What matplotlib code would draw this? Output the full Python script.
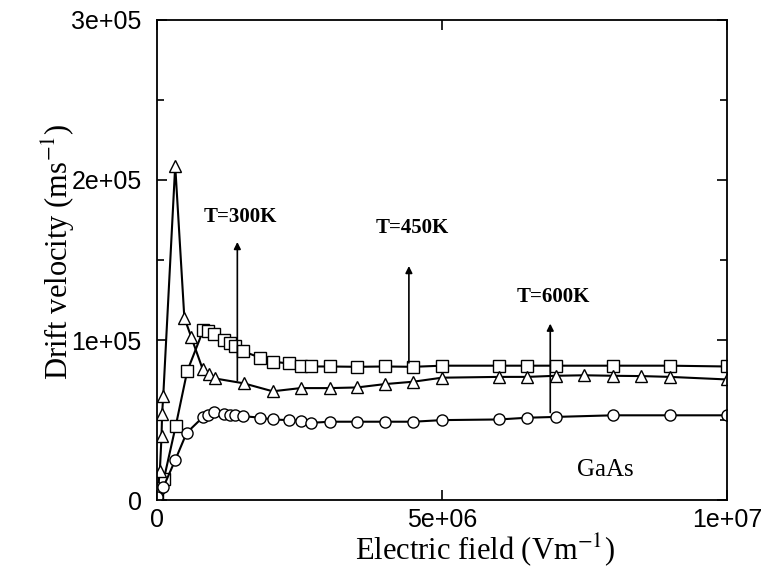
import matplotlib
matplotlib.use("Agg")
import matplotlib.pyplot as plt
from matplotlib.ticker import FixedLocator, FuncFormatter, MultipleLocator

# drift velocity vs electric field in GaAs, three temperatures
field_sq = [0, 1.2e5, 3.3e5, 5.3e5, 8.1e5, 9e5, 1.0e6, 1.18e6, 1.28e6, 1.37e6, 1.51e6, 1.81e6,
            2.03e6, 2.31e6, 2.52e6, 2.71e6, 3.03e6, 3.51e6, 4.0e6, 4.5e6, 5.0e6, 6.0e6, 6.5e6,
            7.0e6, 8.0e6, 9.0e6, 1.0e7]
vel_sq = [1e3, 13e3, 46.5e3, 80.5e3, 106e3, 105.5e3, 104e3, 100e3, 98e3, 96e3, 93e3, 89e3,
          86.5e3, 85.4e3, 83.5e3, 83.5e3, 83.5e3, 83.3e3, 83.5e3, 83.3e3, 84e3, 84e3, 84e3,
          84e3, 84e3, 84e3, 83.5e3]

field_tri = [0, 2e4, 5e4, 8e4, 9e4, 1.1e5, 3.2e5, 4.8e5, 6.0e5, 8.0e5, 9.2e5, 1.02e6, 1.52e6,
             2.03e6, 2.52e6, 3.03e6, 3.51e6, 4.0e6, 4.5e6, 5.0e6, 6.0e6, 6.5e6, 7.0e6, 7.5e6,
             8.0e6, 8.5e6, 9.0e6, 1.0e7]
vel_tri = [2e3, 8e3, 18e3, 40e3, 54e3, 65e3, 209e3, 114e3, 102e3, 82e3, 79e3, 76e3, 73e3,
           68e3, 70e3, 70e3, 70.4e3, 72.5e3, 74e3, 76.5e3, 77e3, 77e3, 77.7e3, 78e3,
           77.7e3, 77.5e3, 77e3, 75.4e3]

field_ci = [0, 1.1e5, 3.2e5, 5.2e5, 8.1e5, 9e5, 1.0e6, 1.18e6, 1.28e6, 1.37e6, 1.51e6, 1.81e6,
            2.03e6, 2.31e6, 2.52e6, 2.71e6, 3.03e6, 3.51e6, 4.0e6, 4.5e6, 5.0e6, 6.0e6, 6.5e6,
            7.0e6, 8.0e6, 9.0e6, 1.0e7]
vel_ci = [2e3, 8e3, 25e3, 42e3, 52e3, 53.5e3, 55e3, 54e3, 53.5e3, 53e3, 52.5e3, 51.5e3,
          50.4e3, 50e3, 49.6e3, 48.3e3, 49e3, 49e3, 49e3, 49e3, 50e3, 50.4e3, 51.5e3,
          52e3, 53e3, 53e3, 53e3]

# temperature labels: arrow x, arrow base, arrow tip, label height
temp_labels = ["T=300K", "T=450K", "T=600K"]
arrow_x = [1.41e6, 4.42e6, 6.9e6]
arrow_base = [73e3, 84e3, 53e3]
arrow_tip = [163e3, 148e3, 112e3]
label_y = [177e3, 170e3, 127e3]

plt.rcParams["mathtext.fontset"] = "stix"
serif = "Liberation Serif"
sans = "Liberation Sans"

fig = plt.figure(figsize=(7.62, 5.69), dpi=100)
ax = fig.add_axes([0.206, 0.121, 0.748, 0.844])

style = dict(color="black", lw=1.5, markerfacecolor="white", markeredgecolor="black",
             markeredgewidth=1.0, markersize=8)
ax.plot(field_sq, vel_sq, marker="s", **style)
ax.plot(field_tri, vel_tri, marker="^", **style)
ax.plot(field_ci, vel_ci, marker="o", **style)

for lab, x, b, t, ty in zip(temp_labels, arrow_x, arrow_base, arrow_tip, label_y):
    ax.annotate("", xy=(x, t), xytext=(x, b),
                arrowprops=dict(arrowstyle="-|>", color="black", lw=1.2, mutation_scale=10))
    ax.text(x + 0.06e6, ty, lab, family=serif, fontsize=15, fontweight="bold",
            ha="center", va="center")

ax.text(7.86e6, 19e3, "GaAs", family=serif, fontsize=18, ha="center", va="center")

ax.set_xlim(0, 1e7)
ax.set_ylim(0, 3e5)
ax.xaxis.set_major_locator(FixedLocator([0, 5e6, 1e7]))
ax.yaxis.set_major_locator(FixedLocator([0, 1e5, 2e5, 3e5]))
ax.yaxis.set_minor_locator(MultipleLocator(5e4))
fmt = FuncFormatter(lambda v, pos: "0" if v == 0 else f"{v:.0e}")
ax.xaxis.set_major_formatter(fmt)
ax.yaxis.set_major_formatter(fmt)
ax.tick_params(which="both", direction="in", top=True, right=True, width=1.2)
ax.tick_params(which="major", length=7, labelsize=18)
ax.tick_params(axis="x", which="major", pad=6)
ax.tick_params(axis="y", which="major", pad=11)
ax.tick_params(which="minor", length=5)
for lbl in ax.get_xticklabels() + ax.get_yticklabels():
    lbl.set_family(sans)
for sp in ax.spines.values():
    sp.set_linewidth(1.3)

ax.set_xlabel(r"Electric field (Vm$^{-1}$)", family=serif, fontsize=22)
ax.set_ylabel(r"Drift velocity (ms$^{-1}$)", family=serif, fontsize=22)
ax.xaxis.set_label_coords(0.575, -0.065)
ax.yaxis.set_label_coords(-0.14, 0.517)

fig.savefig("out.png", dpi=100)
